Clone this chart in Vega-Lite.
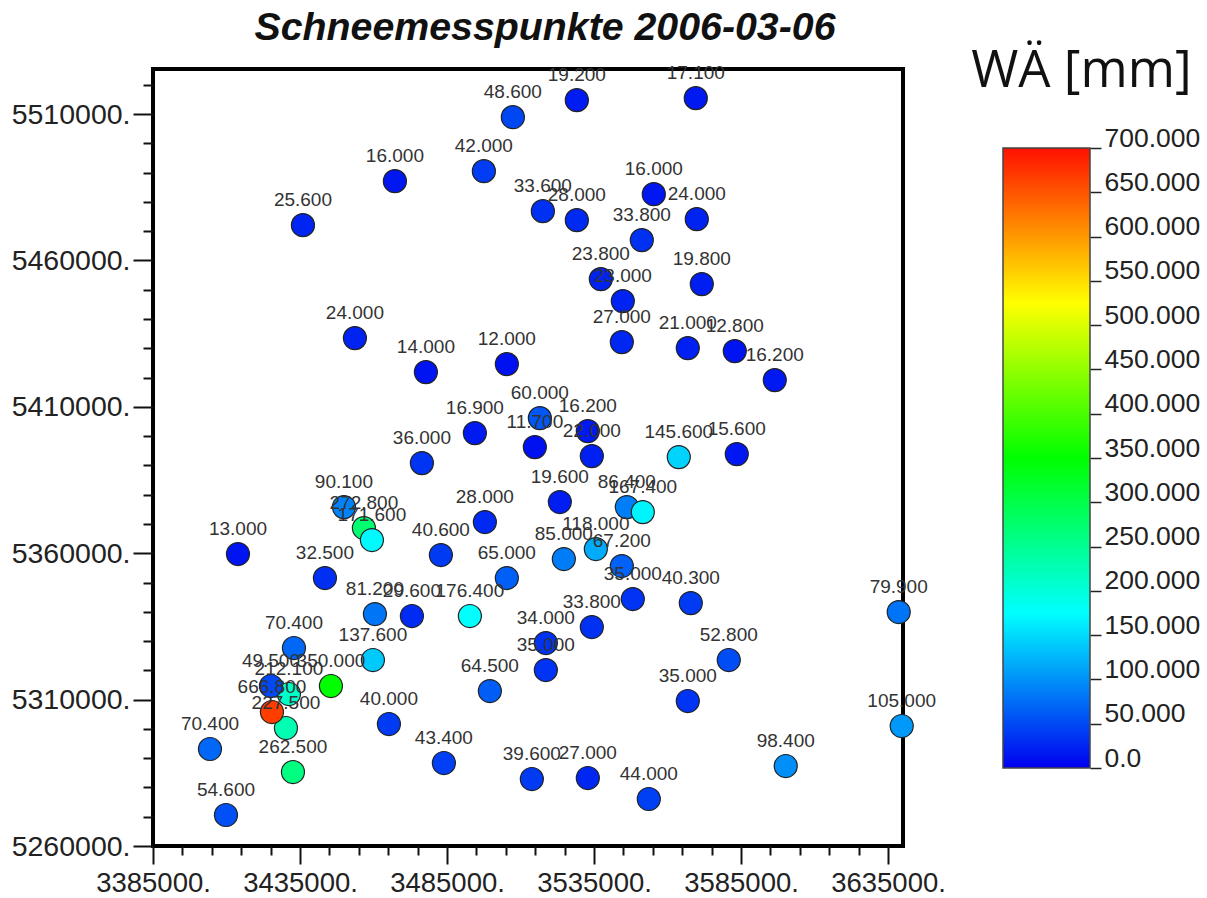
{"$schema":"https://vega.github.io/schema/vega-lite/v6.json","background":"white","padding":{"left":9,"top":6,"right":5,"bottom":5},"bounds":"flush","spacing":100,"config":{"font":"Liberation Sans","view":{"stroke":null}},"hconcat":[{"width":750,"height":777,"title":{"text":"Schneemesspunkte 2006-03-06","font":"Liberation Sans","fontSize":39.3,"fontWeight":"bold","fontStyle":"italic","color":"#111","anchor":"middle","dx":17,"offset":16},"view":{"stroke":"black","strokeWidth":4},"data":{"values":[{"x":3436000,"y":5472070,"v":25.6},{"x":3467280,"y":5487100,"v":16},{"x":3497540,"y":5490510,"v":42},{"x":3507400,"y":5508950,"v":48.6},{"x":3529160,"y":5514760,"v":19.2},{"x":3569620,"y":5515440,"v":17.1},{"x":3517600,"y":5476850,"v":33.6},{"x":3529160,"y":5473780,"v":28},{"x":3555340,"y":5482660,"v":16},{"x":3569960,"y":5474120,"v":24},{"x":3551260,"y":5466950,"v":33.8},{"x":3537320,"y":5453630,"v":23.8},{"x":3544800,"y":5446120,"v":23},{"x":3571660,"y":5451920,"v":19.8},{"x":3453680,"y":5433480,"v":24},{"x":3477820,"y":5421870,"v":14},{"x":3505360,"y":5424600,"v":12},{"x":3544460,"y":5432120,"v":27},{"x":3566900,"y":5430070,"v":21},{"x":3582880,"y":5429040,"v":12.8},{"x":3596480,"y":5419140,"v":16.2},{"x":3516580,"y":5406160,"v":60},{"x":3494480,"y":5401040,"v":16.9},{"x":3514880,"y":5396260,"v":11.7},{"x":3534260,"y":5393190,"v":22},{"x":3532900,"y":5401720,"v":16.2},{"x":3563840,"y":5392840,"v":145.6},{"x":3583560,"y":5393870,"v":15.6},{"x":3476460,"y":5390800,"v":36},{"x":3523380,"y":5377480,"v":19.6},{"x":3546160,"y":5375770,"v":86.4},{"x":3551600,"y":5374060,"v":167.4},{"x":3449940,"y":5375770,"v":90.1},{"x":3456740,"y":5368600,"v":272.8},{"x":3459460,"y":5364500,"v":171.6},{"x":3497880,"y":5370650,"v":28},{"x":3413900,"y":5359720,"v":13},{"x":3482920,"y":5359380,"v":40.6},{"x":3535620,"y":5361430,"v":118},{"x":3524740,"y":5358010,"v":85},{"x":3544460,"y":5355620,"v":67.2},{"x":3505360,"y":5351520,"v":65},{"x":3443480,"y":5351520,"v":32.5},{"x":3548200,"y":5344350,"v":35},{"x":3567920,"y":5342980,"v":40.3},{"x":3638640,"y":5339910,"v":79.9},{"x":3460480,"y":5339230,"v":81.2},{"x":3473060,"y":5338550,"v":29.6},{"x":3492780,"y":5338550,"v":176.4},{"x":3534260,"y":5334790,"v":33.8},{"x":3518620,"y":5329320,"v":34},{"x":3518620,"y":5320100,"v":35},{"x":3432940,"y":5327620,"v":70.4},{"x":3459800,"y":5323520,"v":137.6},{"x":3580840,"y":5323520,"v":52.8},{"x":3431240,"y":5311910,"v":212.1},{"x":3425120,"y":5314640,"v":49.5},{"x":3445520,"y":5314640,"v":350},{"x":3430220,"y":5300300,"v":227.5},{"x":3425460,"y":5305760,"v":666.8},{"x":3499580,"y":5312930,"v":64.5},{"x":3566900,"y":5309520,"v":35},{"x":3465240,"y":5301660,"v":40},{"x":3639660,"y":5300980,"v":105},{"x":3404380,"y":5293130,"v":70.4},{"x":3432600,"y":5285270,"v":262.5},{"x":3483940,"y":5288340,"v":43.4},{"x":3513860,"y":5282880,"v":39.6},{"x":3532900,"y":5283220,"v":27},{"x":3600220,"y":5287320,"v":98.4},{"x":3553640,"y":5276050,"v":44},{"x":3409820,"y":5270590,"v":54.6}]},"encoding":{"x":{"field":"x","type":"quantitative","scale":{"domain":[3385000,3640100],"nice":false,"zero":false},"axis":{"title":null,"grid":false,"domain":false,"values":[3385000,3395000,3405000,3415000,3425000,3435000,3445000,3455000,3465000,3475000,3485000,3495000,3505000,3515000,3525000,3535000,3545000,3555000,3565000,3575000,3585000,3595000,3605000,3615000,3625000,3635000],"labelExpr":"(datum.value-3385000)%50000===0?format(datum.value,'d')+'.':''","labelOverlap":false,"labelFlush":false,"labelFontSize":27.5,"labelColor":"#222","labelPadding":5,"tickColor":"#111","tickWidth":2,"tickSize":{"condition":{"test":"(datum.value-3385000)%50000===0","value":18},"value":9}}},"y":{"field":"y","type":"quantitative","scale":{"domain":[5260000,5525400],"nice":false,"zero":false},"axis":{"title":null,"grid":false,"domain":false,"values":[5260000,5270000,5280000,5290000,5300000,5310000,5320000,5330000,5340000,5350000,5360000,5370000,5380000,5390000,5400000,5410000,5420000,5430000,5440000,5450000,5460000,5470000,5480000,5490000,5500000,5510000,5520000],"labelExpr":"(datum.value-5260000)%50000===0?format(datum.value,'d')+'.':''","labelOverlap":false,"labelFlush":false,"labelFontSize":28.5,"labelColor":"#222","labelPadding":3,"tickColor":"#111","tickWidth":2,"tickSize":{"condition":{"test":"(datum.value-5260000)%50000===0","value":20},"value":10}}}},"layer":[{"mark":{"type":"circle","size":530,"opacity":1,"stroke":"#222","strokeWidth":1.2,"clip":false},"encoding":{"color":{"field":"v","type":"quantitative","legend":null,"scale":{"domain":[0,175,350,525,700],"range":["#0000f0","#00ffff","#00ff00","#ffff00","#ff1000"],"interpolate":"rgb"}}}},{"mark":{"type":"text","fontSize":19,"dy":-25,"color":"#333","clip":false},"encoding":{"text":{"field":"v","type":"quantitative","format":".3f"}}}]},{"width":87,"height":777,"title":{"text":"WÄ [mm]","font":"Open Sans","fontSize":51,"fontWeight":"normal","color":"#111","anchor":"start","dx":-31,"offset":-29},"data":{"values":[{"lo":0,"hi":700}]},"mark":{"type":"rect","stroke":"#444","strokeWidth":1.5,"color":{"gradient":"linear","x1":0,"y1":1,"x2":0,"y2":0,"stops":[{"offset":0,"color":"#0000f0"},{"offset":0.25,"color":"#00ffff"},{"offset":0.5,"color":"#00ff00"},{"offset":0.75,"color":"#ffff00"},{"offset":1,"color":"#ff1000"}]}},"encoding":{"y":{"field":"lo","type":"quantitative","scale":{"domain":[-88.06,789.2],"nice":false,"zero":false},"axis":{"orient":"right","title":null,"grid":false,"domain":false,"values":[0,50,100,150,200,250,300,350,400,450,500,550,600,650,700],"labelExpr":"datum.value===0?'0.0':format(datum.value,'.3f')","labelOverlap":false,"labelFlush":false,"labelFontSize":26.5,"labelColor":"#222","labelOffset":-10,"labelPadding":3,"tickColor":"#222","tickWidth":1.5,"tickSize":11}},"y2":{"field":"hi"}}}]}
